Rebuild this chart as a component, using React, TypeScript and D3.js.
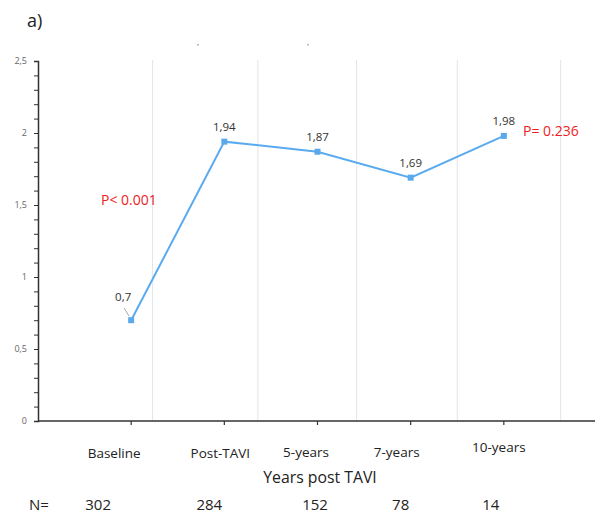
import React, { useRef, useEffect } from "react";
import { select, scaleLinear, line, axisLeft } from "d3";

const categories = ["Baseline", "Post-TAVI", "5-years", "7-years", "10-years"];
const values = [0.7, 1.94, 1.87, 1.69, 1.98];
const valueLabels = ["0,7", "1,94", "1,87", "1,69", "1,98"];
const nCounts = [302, 284, 152, 78, 14];
const yMajorLabels = ["0", "0,5", "1", "1,5", "2", "2,5"];
// faint vertical guides, in x-scale units
const gridAt = [1.23, 2.36, 3.42, 4.5, 5.61];
const pLabels = ["P< 0.001", "P= 0.236"];

const FONT = "'Open Sans', sans-serif";

function App() {
  const svgRef = useRef(null);

  useEffect(() => {
    const svg = select(svgRef.current);
    svg.selectAll("*").remove();

    const x = scaleLinear().domain([0, 6]).range([38, 597]);
    const y = scaleLinear().domain([0, 2.5]).range([421, 61]);

    // title
    svg.append("text").attr("x", 27).attr("y", 27)
      .attr("font-family", FONT).attr("font-size", 18).attr("fill", "#222")
      .text("a)");

    // vertical guides
    svg.selectAll(".grid").data(gridAt).join("line")
      .attr("class", "grid")
      .attr("x1", d => x(d)).attr("x2", d => x(d))
      .attr("y1", 60).attr("y2", y(0))
      .attr("stroke", "#e2e4ec").attr("stroke-width", 1);

    // y axis with minor ticks every 0.1
    const yTicks = Array.from({ length: 26 }, (_, i) => i / 10);
    const yAxis = axisLeft(y).tickValues(yTicks).tickSize(4).tickPadding(7)
      .tickFormat((d, i) => (i % 5 === 0 ? yMajorLabels[i / 5] : ""));
    const gy = svg.append("g").attr("transform", `translate(${x(0)},0)`).call(yAxis);
    gy.select(".domain").attr("stroke", "#333").attr("stroke-width", 1.5);
    gy.selectAll(".tick line").attr("stroke", "#333");
    gy.selectAll(".tick text").attr("font-family", FONT).attr("font-size", 9).attr("fill", "#666");

    // x axis
    svg.append("line")
      .attr("x1", x(0)).attr("x2", 595).attr("y1", y(0)).attr("y2", y(0))
      .attr("stroke", "#333").attr("stroke-width", 1.5);
    svg.selectAll(".xtick").data(categories).join("line")
      .attr("class", "xtick")
      .attr("x1", (d, i) => x(i + 1)).attr("x2", (d, i) => x(i + 1))
      .attr("y1", y(0)).attr("y2", y(0) + 4)
      .attr("stroke", "#333").attr("stroke-width", 1.2);

    // category labels (nudged as in the original layout)
    const labelNudge = [-17, -4, -11.5, -14, -5];
    const labelDy = [0, 0, -1, -1, -6];
    svg.selectAll(".xlab").data(categories).join("text")
      .attr("class", "xlab")
      .attr("x", (d, i) => x(i + 1) + labelNudge[i])
      .attr("y", (d, i) => 458 + labelDy[i])
      .attr("text-anchor", "middle")
      .attr("font-family", FONT).attr("font-size", 13.5).attr("fill", "#222")
      .text(d => d);

    svg.append("text").attr("x", 320).attr("y", 483)
      .attr("text-anchor", "middle")
      .attr("font-family", FONT).attr("font-size", 15.8).attr("fill", "#222")
      .text("Years post TAVI");

    // N row
    const nNudge = [-33, -15, -2.5, -10, -13];
    svg.append("text").attr("x", 29).attr("y", 510)
      .attr("font-family", FONT).attr("font-size", 15).attr("fill", "#222")
      .text("N=");
    svg.selectAll(".nlab").data(nCounts).join("text")
      .attr("class", "nlab")
      .attr("x", (d, i) => x(i + 1) + nNudge[i])
      .attr("y", 510)
      .attr("text-anchor", "middle")
      .attr("font-family", FONT).attr("font-size", 15).attr("fill", "#222")
      .text(d => d);

    // series line
    const myLine = line()
      .x((d, i) => x(i + 1))
      .y(d => y(d));
    svg.append("path")
      .datum(values)
      .attr("d", myLine)
      .attr("fill", "none")
      .attr("stroke", "#5aaaf0")
      .attr("stroke-width", 2);

    svg.selectAll(".pt").data(values).join("rect")
      .attr("class", "pt")
      .attr("x", (d, i) => x(i + 1) - 3).attr("y", d => y(d) - 3)
      .attr("width", 6).attr("height", 6)
      .attr("fill", "#5ba8ea");

    // leader line for first label
    svg.append("line")
      .attr("x1", x(1) - 7).attr("y1", y(values[0]) - 12)
      .attr("x2", x(1) - 2).attr("y2", y(values[0]) - 4)
      .attr("stroke", "#8a8fa8").attr("stroke-width", 0.8);

    // data labels
    svg.selectAll(".vlab").data(valueLabels).join("text")
      .attr("class", "vlab")
      .attr("x", (d, i) => x(i + 1) + (i === 0 ? -8 : 0))
      .attr("y", (d, i) => y(values[i]) - (i === 0 ? 19 : 10.5))
      .attr("text-anchor", "middle")
      .attr("font-family", FONT).attr("font-size", 11.5).attr("fill", "#333")
      .text(d => d);

    // p-values
    svg.append("text").attr("x", 101).attr("y", 205)
      .attr("font-family", FONT).attr("font-size", 14).attr("fill", "#ee1c25")
      .text(pLabels[0]);
    svg.append("text").attr("x", 523).attr("y", 136)
      .attr("font-family", FONT).attr("font-size", 14).attr("fill", "#ee1c25")
      .text(pLabels[1]);

    // stray marks at the top
    svg.selectAll(".dot").data([1.71, 2.89]).join("rect")
      .attr("class", "dot")
      .attr("x", d => x(d)).attr("y", 44).attr("width", 1.5).attr("height", 1.5)
      .attr("fill", "#9aa0b4");
  }, []);

  return (
    <svg
      ref={svgRef}
      width={595}
      height={516}
      style={{ position: "absolute", left: 0, top: 0, background: "#fff" }}
    />
  );
}

export default App;
